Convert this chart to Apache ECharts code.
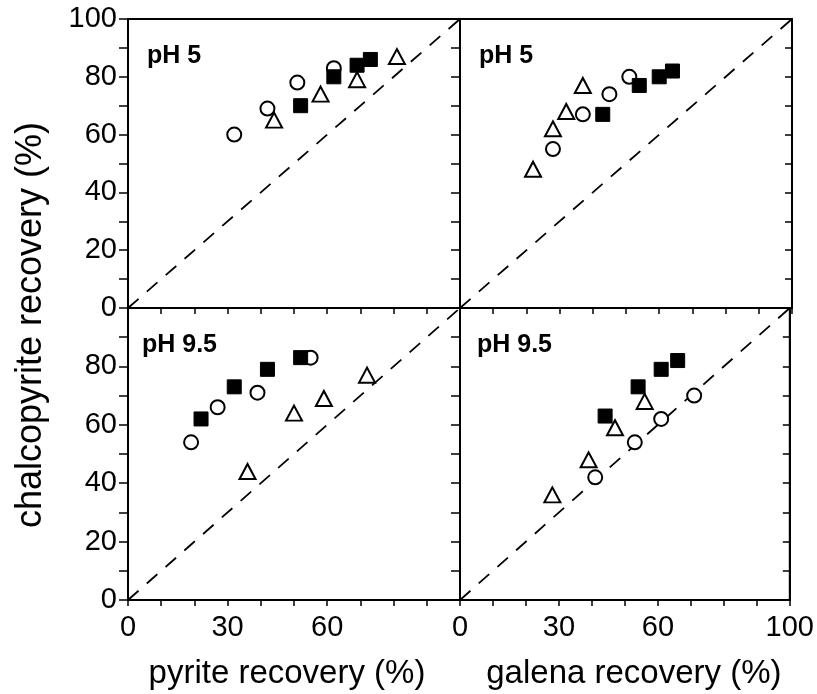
<!DOCTYPE html>
<html>
<head>
<meta charset="utf-8">
<script src="https://cdn.jsdelivr.net/npm/echarts@6/dist/echarts.min.js"></script>
<style>
  html, body { margin: 0; padding: 0; background: #fff; }
  #chart { width: 817px; height: 694px; }
</style>
</head>
<body>
<div id="chart"></div>
<script>
// Recovery data: [mineral recovery %, chalcopyrite recovery %]
const pyritePH5Circles    = [[32, 60], [42, 69], [51, 78], [62, 83]];
const pyritePH5Triangles  = [[44, 65], [58, 74], [69, 79], [81, 87]];
const pyritePH5Squares    = [[52, 70], [62, 80], [69, 84], [73, 86]];

const galenaPH5Circles    = [[28, 55], [37, 67], [45, 74], [51, 80]];
const galenaPH5Triangles  = [[22, 48], [28, 62], [32, 68], [37, 77]];
const galenaPH5Squares    = [[43, 67], [54, 77], [60, 80], [64, 82]];

const pyritePH95Circles   = [[19, 54], [27, 66], [39, 71], [55, 83]];
const pyritePH95Triangles = [[36, 44], [50, 64], [59, 69], [72, 77]];
const pyritePH95Squares   = [[22, 62], [32, 73], [42, 79], [52, 83]];

const galenaPH95Circles   = [[41, 42], [53, 54], [61, 62], [71, 70]];
const galenaPH95Triangles = [[28, 36], [39, 48], [47, 59], [56, 68]];
const galenaPH95Squares   = [[44, 63], [54, 73], [61, 79], [66, 82]];

const panelTitles = ['pH 5', 'pH 5', 'pH 9.5', 'pH 9.5'];
const xLabelsLeft  = [0, 30, 60];
const xLabelsRight = [0, 30, 60, 100];
const yLabelsTop    = [0, 20, 40, 60, 80, 100];
const yLabelsBottom = [0, 20, 40, 60, 80];
const diagonal = [[0, 0], [100, 100]];
const xTitleLeft = 'pyrite recovery (%)';
const xTitleRight = 'galena recovery (%)';
const yTitle = 'chalcopyrite recovery (%)';

// Layout of the 2x2 panel block
const L = 128, W = 332, T = 19, HT = 289, HB = 292;
const FONT = 'Liberation Sans, Arial, Helvetica, sans-serif';

const grids = [
  { left: L,     top: T,      width: W, height: HT },
  { left: L + W, top: T,      width: W, height: HT },
  { left: L,     top: T + HT, width: W, height: HB },
  { left: L + W, top: T + HT, width: W, height: HB }
].map(g => Object.assign(g, { show: true, borderColor: '#000', borderWidth: 2, backgroundColor: 'transparent' }));

const lineStyle = { color: '#000', width: 2 };

const xAxes = grids.map((g, i) => {
  const isLeft = i % 2 === 0;
  const isBottom = i >= 2;
  const labels = isLeft ? xLabelsLeft : xLabelsRight;
  return {
    type: 'value', gridIndex: i, min: 0, max: 100, interval: 10,
    axisLine: { show: true, lineStyle },
    axisTick: { show: true, inside: false, length: 6, lineStyle: { color: '#000', width: 1.5 } },
    splitLine: { show: false },
    axisLabel: {
      show: isBottom, margin: 13, color: '#000', fontFamily: FONT, fontSize: 29,
      showMinLabel: true, showMaxLabel: true,
      formatter: v => labels.indexOf(v) >= 0 ? String(v) : ''
    },
    name: isBottom ? (isLeft ? xTitleLeft : xTitleRight) : '',
    nameLocation: 'middle', nameGap: 57,
    nameTextStyle: {
      color: '#000', fontFamily: FONT, fontSize: 33,
      padding: isLeft ? [0, 14, 0, 0] : [0, 0, 0, 18]
    }
  };
});

const yAxes = grids.map((g, i) => {
  const isLeft = i % 2 === 0;
  const labels = i < 2 ? yLabelsTop : yLabelsBottom;
  return {
    type: 'value', gridIndex: i, min: 0, max: 100, interval: 10, position: 'left',
    axisLine: { show: true, lineStyle },
    axisTick: { show: true, inside: false, length: 9, lineStyle: { color: '#000', width: 1.5 } },
    splitLine: { show: false },
    axisLabel: {
      show: isLeft, margin: 11, color: '#000', fontFamily: FONT, fontSize: 29,
      showMinLabel: true, showMaxLabel: true,
      formatter: v => labels.indexOf(v) >= 0 ? String(v) : ''
    }
  };
});

// Right-hand frame ticks of the galena panels
[1, 3].forEach(i => {
  yAxes.push({
    type: 'value', gridIndex: i, min: 0, max: 100, interval: 10, position: 'right',
    axisLine: { show: true, lineStyle },
    axisTick: { show: true, inside: true, length: 7, lineStyle: { color: '#000', width: 1.5 } },
    splitLine: { show: false },
    axisLabel: { show: false }
  });
});

const openStyle = { color: '#fff', borderColor: '#000', borderWidth: 2, opacity: 1 };
const filledStyle = { color: '#000', borderColor: '#000', borderWidth: 1, opacity: 1 };

const panelData = [
  [pyritePH5Circles, pyritePH5Triangles, pyritePH5Squares],
  [galenaPH5Circles, galenaPH5Triangles, galenaPH5Squares],
  [pyritePH95Circles, pyritePH95Triangles, pyritePH95Squares],
  [galenaPH95Circles, galenaPH95Triangles, galenaPH95Squares]
];

const series = [];
panelData.forEach((sets, i) => {
  series.push({
    type: 'line', xAxisIndex: i, yAxisIndex: i, data: diagonal, symbol: 'none',
    silent: true, z: 1,
    lineStyle: { color: '#000', width: 1.8, type: [14, 11] }
  });
  series.push({
    type: 'scatter', xAxisIndex: i, yAxisIndex: i, data: sets[0],
    symbol: 'circle', symbolSize: 14, itemStyle: openStyle, z: 3
  });
  series.push({
    type: 'scatter', xAxisIndex: i, yAxisIndex: i, data: sets[1],
    symbol: 'triangle', symbolSize: [16, 15], itemStyle: openStyle, z: 4
  });
  series.push({
    type: 'scatter', xAxisIndex: i, yAxisIndex: i, data: sets[2],
    symbol: 'rect', symbolSize: 14, itemStyle: filledStyle, z: 5
  });
});

const titleInset = [19, 19, 14, 17];
const titles = panelTitles.map((t, i) => ({
  text: t,
  left: grids[i].left + titleInset[i],
  top: grids[i].top + 25,
  padding: 0,
  textStyle: { color: '#000', fontFamily: FONT, fontSize: 25, fontWeight: 'bold' }
}));

const chart = echarts.init(document.getElementById('chart'), null, { renderer: 'canvas' });
chart.setOption({
  animation: false,
  backgroundColor: '#fff',
  title: titles,
  grid: grids,
  xAxis: xAxes,
  yAxis: yAxes,
  series: series,
  graphic: [{
    type: 'text',
    x: 31, y: 325,
    rotation: Math.PI / 2,
    style: {
      text: yTitle, fill: '#000', font: '36px ' + FONT,
      textAlign: 'center', textVerticalAlign: 'middle'
    }
  }]
});
</script>
</body>
</html>
